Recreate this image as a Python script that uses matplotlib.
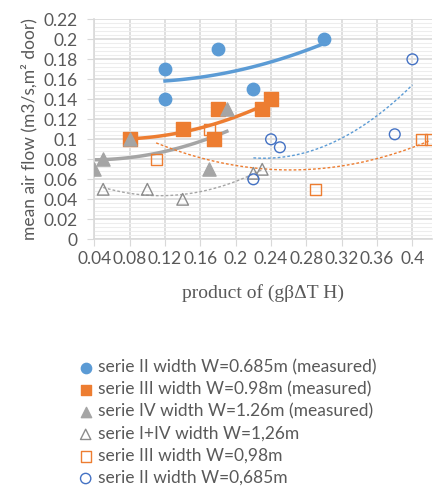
import numpy as np
import matplotlib
matplotlib.use("Agg")
import matplotlib.pyplot as plt
from matplotlib.ticker import MultipleLocator

# measured series
x_ii_meas = [0.12, 0.12, 0.18, 0.22, 0.30]
y_ii_meas = [0.17, 0.14, 0.19, 0.15, 0.20]
x_iii_meas = [0.08, 0.14, 0.18, 0.175, 0.23, 0.24]
y_iii_meas = [0.10, 0.11, 0.13, 0.10, 0.13, 0.14]
x_iv_meas = [0.04, 0.05, 0.08, 0.17, 0.19]
y_iv_meas = [0.07, 0.08, 0.10, 0.07, 0.13]

# other series
x_i_iv = [0.05, 0.10, 0.14, 0.22, 0.23]
y_i_iv = [0.05, 0.05, 0.04, 0.066, 0.07]
x_iii = [0.11, 0.17, 0.29, 0.41, 0.42]
y_iii = [0.08, 0.11, 0.05, 0.10, 0.10]
x_ii = [0.24, 0.25, 0.22, 0.38, 0.40]
y_ii = [0.10, 0.092, 0.06, 0.105, 0.18]

x_ticks = [0.04, 0.08, 0.12, 0.16, 0.2, 0.24, 0.28, 0.32, 0.36, 0.4]
x_tick_labels = ["0.04", "0.08", "0.12", "0.16", "0.2", "0.24", "0.28", "0.32", "0.36", "0.4"]
y_ticks = [0, 0.02, 0.04, 0.06, 0.08, 0.1, 0.12, 0.14, 0.16, 0.18, 0.2, 0.22]
y_tick_labels = ["0", "0.02", "0.04", "0.06", "0.08", "0.1", "0.12", "0.14", "0.16", "0.18", "0.2", "0.22"]

labels = ["serie II width W=0.685m (measured)",
          "serie III width W=0.98m (measured)",
          "serie IV width W=1.26m (measured)",
          "serie I+IV width W=1,26m",
          "serie III width W=0,98m",
          "serie II width W=0,685m"]

BLUE = "#5B9BD5"
ORANGE = "#ED7D31"
GRAY = "#A5A5A5"
DBLUE = "#4472C4"
TXT = "#595959"

plt.rcParams['font.family'] = ['Lato', 'DejaVu Sans']

fig = plt.figure(figsize=(4.35, 4.86), dpi=100)
ax = fig.add_axes([0.2168, 0.5076, 0.7756, 0.4527])


def trend(x, y, **kw):
    # excel-like 2nd order polynomial trendline over the data range
    c = np.polyfit(x, y, 2)
    xs = np.linspace(min(x), max(x), 100)
    ax.plot(xs, np.polyval(c, xs), zorder=2, **kw)


trend(x_ii_meas, y_ii_meas, color=BLUE, lw=2.5)
trend(x_iii_meas, y_iii_meas, color=ORANGE, lw=2.5)
trend(x_iv_meas, y_iv_meas, color=GRAY, lw=2.5)
trend(x_i_iv, y_i_iv, color=GRAY, lw=1, ls=(0, (2, 1.5)))
trend(x_iii, y_iii, color=ORANGE, lw=1, ls=(0, (2, 1.5)))
trend(x_ii, y_ii, color=BLUE, lw=1, ls=(0, (2, 1.5)))

ax.scatter(x_ii_meas, y_ii_meas, marker="o", s=80, color=BLUE, zorder=3, label=labels[0], clip_on=False)
ax.scatter(x_iii_meas, y_iii_meas, marker="s", s=95, color=ORANGE, zorder=3, label=labels[1], clip_on=False)
ax.scatter(x_iv_meas, y_iv_meas, marker="^", s=90, color=GRAY, zorder=3, label=labels[2])
ax.scatter(x_i_iv, y_i_iv, marker="^", s=70, facecolor="none", edgecolor="#8C8C8C", lw=1, zorder=3, label=labels[3])
ax.scatter(x_iii, y_iii, marker="s", s=60, facecolor="none", edgecolor=ORANGE, lw=1, zorder=3, label=labels[4])
ax.scatter(x_ii, y_ii, marker="o", s=60, facecolor="none", edgecolor=DBLUE, lw=1, zorder=3, label=labels[5])

ax.set_xlim(0.04, 0.4218)
ax.set_ylim(0, 0.22)
ax.set_xticks(x_ticks)
ax.set_xticklabels(x_tick_labels)
ax.set_yticks(y_ticks)
ax.set_yticklabels(y_tick_labels)
ax.yaxis.set_minor_locator(MultipleLocator(0.004))
ax.grid(which="major", color="#D9D9D9", lw=1.2)
ax.grid(which="minor", axis="y", color="#EDEDED", lw=0.8)
ax.set_axisbelow(True)
for s in ["top", "right"]:
    ax.spines[s].set_visible(False)
for s in ["left", "bottom"]:
    ax.spines[s].set_color("#D9D9D9")
    ax.spines[s].set_linewidth(1.2)
ax.tick_params(which="major", length=5, color="#D9D9D9", labelcolor=TXT, labelsize=12.5)
ax.tick_params(axis="y", pad=7)
ax.tick_params(which="minor", length=0)

ax.set_xlabel("product of (gβΔT H)", family=["Liberation Serif", "DejaVu Serif"],
              fontsize=14, color=TXT, labelpad=12)
ax.set_ylabel("mean air flow (m3/s,m² door)", fontsize=12.5, color=TXT, labelpad=4)

leg = fig.legend(loc="upper left", bbox_to_anchor=(0.165, 0.275), frameon=False,
                 handlelength=0.8, handletextpad=0.3, labelspacing=0.35,
                 fontsize=12.5, labelcolor=TXT, borderaxespad=0, scatterpoints=1)
for h in leg.legend_handles:
    h.set_sizes([55])

fig.savefig("out.png", dpi=100)
